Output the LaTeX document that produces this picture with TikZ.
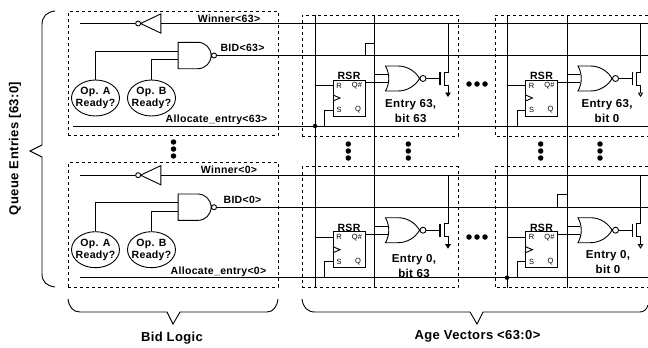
\documentclass[tikz,border=0pt]{standalone}
\usepackage{fontspec}
\setmainfont[LetterSpace=3]{Liberation Sans}
\usetikzlibrary{positioning,arrows.meta,shapes.geometric,shapes.gates.logic.US}

% one block of the bid logic
\newcommand{\bidblock}[5]{%
  \begin{scope}[#1]
    \node [dashbox,minimum width=210,minimum height=124.5] (box) at (173,73.25) {};
    \coordinate (wl) at (80,23.5);  \coordinate (wr) at (648,23.5);
    \coordinate (br) at (648,56);
    \coordinate (al) at (#4,126);   \coordinate (ar) at (648,126);
    \node [notg]  (inv)  at (154,23.5) {};
    \node [nandg] (nand) at (193.5,55.5) {};
    \node [opa]   (opa)  at (95.5,98)  {Op. A\\Ready?};
    \node [opa]   (opb)  at (151.5,98) {Op. B\\Ready?};
    \draw (wl) -- (inv.output);
    \draw (inv.input) -- (wr);
    \draw (opa.north) |- (nand.input 1);
    \draw (opb.north) |- (nand.input 2);
    \draw (nand.output) -- (nand.output -| br);
    \draw (al) -- (ar);
    \node [sig] (wtxt) at (229,18.5) {Winner<#2>};
    \node [sig] (btxt) at (#5,48)    {BID<#2>};
    \node [sig] (atxt) at (#3,120)   {Allocate\_entry<#2>};
  \end{scope}}

% one cell of the age matrix
\newcommand{\agecell}[4]{%
  \begin{scope}[#1]
    \coordinate (vl) at (315,85.5);
    \coordinate (sf) at (324.5,126);
    \coordinate (tap) at (448,23.5);
    \coordinate (tv) at (374,71);
    \node [rsrbox] (rsr)  at (349,98)   {};
    \node [above=22pt of rsr,sig] (rsrt) {RSR};
    \node [pinlab] (r)  at (339,85.5) {R};
    \node [pinlab] (qn) at (357,85.5) {Q\#};
    \node [pinlab] (s)  at (339,110)  {S};
    \node [pinlab] (q)  at (358,110)  {Q};
    \node [norg] (nor) at (400,78.5) {};
    \coordinate (gt) at (440,78.5);
    \draw (vl) -- (rsr.west |- vl);
    \draw (sf) |- (rsr.west |- s);
    \draw (rsr.east |- nor.input 2) -- (nor.input 2);
    \draw (tv |- nor.input 1) -- (nor.input 1);
    \draw (nor.output) -- (gt);
    \draw [line width=1.3pt] ([yshift=-6.5pt]gt) -- ([yshift=6.5pt]gt);
    \draw [gnd] (tap) -- (448,72) -- (444,72) -- (444,85) -- (448,85) -- (448,#3);
    \draw (333,95) -- (340,98) -- (333,101);
    \node [entry] (txt) at #2 {#4};
  \end{scope}}

% three dots in a column
\newcommand{\dotcol}[3]{%
  \node [blob] (#1a) at (#2,#3) {};
  \node [blob,below=7pt of #1a] (#1b) {};
  \node [blob,below=7pt of #1b] (#1c) {};}

% three dots in a row
\newcommand{\dotrow}[3]{%
  \node [blob] (#1a) at (#2,#3) {};
  \node [blob,right=8pt of #1a] (#1b) {};
  \node [blob,right=8pt of #1b] (#1c) {};}

\begin{document}
\begin{tikzpicture}[x=1pt,y=-1pt,line width=.9pt]
\useasboundingbox (0,0) rectangle (648,348);
\begin{scope}[ node distance=7pt,on grid,
    dashbox/.style={rectangle,draw,dashed,line width=.8pt,inner sep=0pt},
    notg/.style={not gate US,draw,rotate=180,inner sep=0pt,logic gate inverted radius=2.5pt,minimum height=16.5pt,minimum width=14pt,aspect=.75},
    nandg/.style={nand gate US,draw,logic gate inputs=nn,inner sep=0pt,logic gate input sep=7.5pt,logic gate inverted radius=2.5pt,minimum height=25pt,minimum width=33pt,aspect=1.32},
    norg/.style={nor gate US,draw,logic gate inputs=nn,inner sep=0pt,logic gate input sep=7.5pt,logic gate inverted radius=3pt,minimum height=25pt,minimum width=32pt,aspect=1.28},
    opa/.style={ellipse,draw,align=center,inner sep=-5pt,minimum width=48pt,minimum height=36pt,font=\fontsize{10.5}{12.5}\selectfont\bfseries},
    sig/.style={inner sep=0pt,font=\fontsize{10.5}{12}\selectfont\bfseries},
    rsrbox/.style={rectangle,draw,fill=white,inner sep=0pt,minimum width=32pt,minimum height=36pt},
    pinlab/.style={inner sep=0pt,font=\fontsize{7.5}{9}\selectfont},
    entry/.style={align=center,inner sep=0pt,font=\fontsize{11.5}{15}\selectfont\bfseries},
    title/.style={inner sep=0pt,font=\fontsize{13}{15}\selectfont\bfseries},
    blob/.style={circle,fill,inner sep=0pt,minimum size=5.5pt},
    gnd/.style={-{Triangle[length=4.5pt,width=5.5pt]}},
    gndo/.style={-{Triangle[open,length=4.5pt,width=5.5pt]}} ]
  % bid logic
  \bidblock{name prefix=top-}{63}{216.5}{73}{242.5}
  \bidblock{name prefix=low-,shift={(0,151.7)}}{0}{218.5}{80}{242.5}
  % age matrix: boxes and columns
  \node [dashbox,minimum width=156,minimum height=121] (boxa) at (380,75.5) {};
  \node [dashbox,minimum width=156,minimum height=121] (boxb) at (380,227.2) {};
  \coordinate (ct) at (648,15);    \coordinate (cb) at (648,136);
  \coordinate (dt) at (648,166.7); \coordinate (db) at (648,287.7);
  \draw [dashed,line width=.8pt] (ct) -- (495,15) -- (495,136) -- (cb);
  \draw [dashed,line width=.8pt] (dt) -- (495,166.7) -- (495,287.7) -- (db);
  \coordinate (v1t) at (315,15);   \coordinate (v1b) at (315,287.7);
  \coordinate (v2t) at (374,15);   \coordinate (v2b) at (374,287.7);
  \coordinate (v3t) at (507,15);   \coordinate (v3b) at (507,287.7);
  \coordinate (v4t) at (567,15);   \coordinate (v4b) at (567,287.7);
  \draw (v1t) -- (v1b);
  \draw (v2t) -- (v2b);
  \draw (v3t) -- (v3b);
  \draw (v4t) -- (v4b);
  % the cells
  \agecell{name prefix=a-}{(410.7,111.5)}{97}{Entry 63,\\bit 63}
  \agecell{name prefix=b-,shift={(192.5,0)},gnd/.style={gndo}}{(414.5,111.5)}{97}{Entry 63,\\bit 0}
  \agecell{name prefix=c-,shift={(0,151.7)}}{(414,114.7)}{97}{Entry 0,\\bit 63}
  \agecell{name prefix=d-,shift={(192.5,151.7)},gnd/.style={gndo}}{(415.5,110.8)}{97}{Entry 0,\\bit 0}
  % stubs and joints
  \coordinate (s1) at (365,56);     \coordinate (s1e) at (374,43);
  \coordinate (s2) at (557,207.7);  \coordinate (s2e) at (567,194.7);
  \draw (s1) |- (s1e);
  \draw (s2) |- (s2e);
  \node [blob,minimum size=4.5pt] (j1) at (315,126) {};
  \node [blob,minimum size=4.5pt] (j2) at (507,277.7) {};
  % dots
  \dotcol{da}{173.5}{142}
  \dotcol{db}{348.3}{144}
  \dotcol{dc}{408.3}{144}
  \dotcol{dd}{540.7}{144}
  \dotcol{de}{600}{144}
  \dotrow{dr}{469}{84}
  \dotrow{ds}{469}{237}
  % braces
  \draw (55,11) .. controls (47,12) and (42,16) .. (42,25) -- (42,145) -- (30,151)
     -- (42,157) -- (42,274) .. controls (42,282) and (47,286) .. (55,287);
  \draw (68,299) .. controls (69,307) and (73,312) .. (80,312) -- (167,312) -- (173,324)
     -- (180,312) -- (267,312) .. controls (273,312) and (277,307) .. (278,299);
  \draw (302,299) .. controls (303,307) and (307,312) .. (315,312) -- (470,312) -- (477,324)
     -- (483,312) -- (640,312) .. controls (644,312) and (647,309) .. (648,305);
  \node [title,rotate=90] (qtxt) at (15,148.5) {Queue Entries [63:0]};
  \node [title] (bltxt) at (172,338) {Bid Logic};
  \node [title] (avtxt) at (477.5,336) {Age Vectors <63:0>};
\end{scope}
\end{tikzpicture}
\end{document}
